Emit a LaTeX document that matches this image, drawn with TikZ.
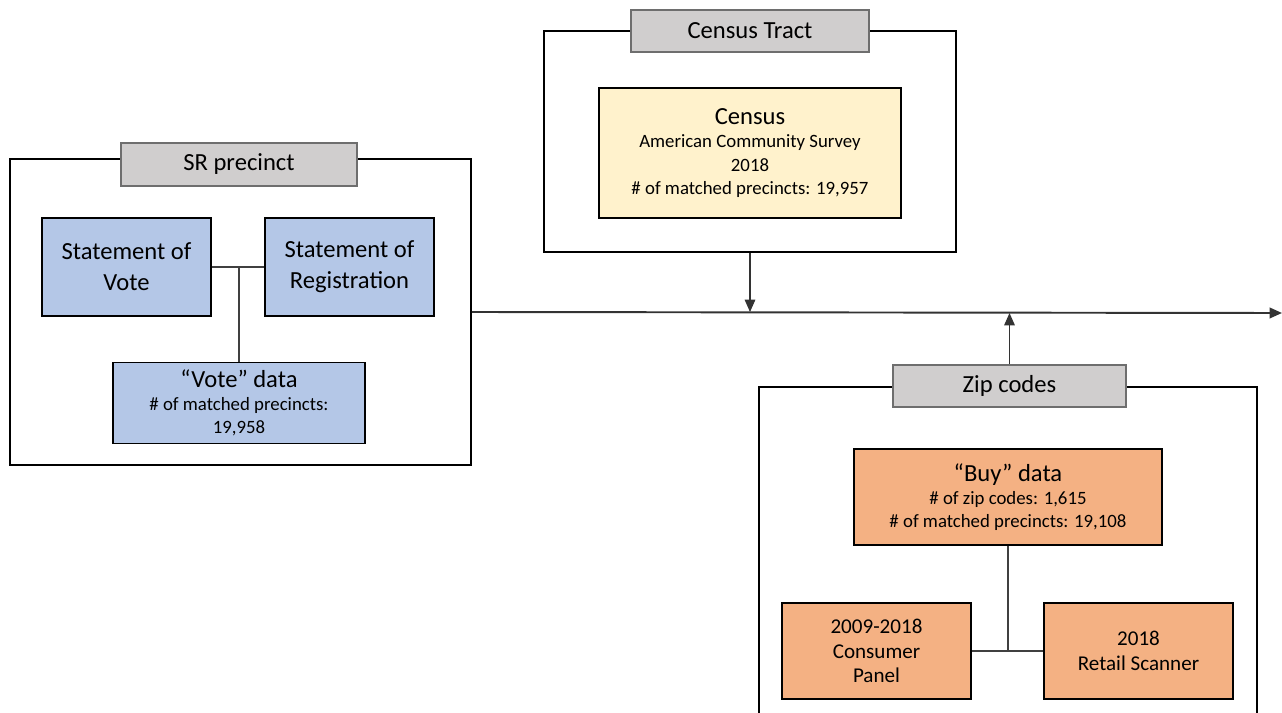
\documentclass[tikz,border=0pt]{standalone}
\usepackage{fontspec}
\setmainfont{Carlito}
\usetikzlibrary{arrows.meta}
\newdimen\unitpx
\unitpx=0.02cm
\definecolor{labelgray}{HTML}{D0CECE}
\definecolor{labeledge}{HTML}{6E6E6E}
\definecolor{voteblue}{HTML}{B4C7E7}
\definecolor{censusyellow}{HTML}{FFF2CC}
\definecolor{buyorange}{HTML}{F4B183}
\tikzset{
  frame/.style={draw=black,line width=1.1pt,inner sep=0pt},
  levellabel/.style={draw=labeledge,fill=labelgray,line width=1.1pt,inner sep=0pt,
    font=\fontsize{14}{17}\selectfont},
  datasource/.style={draw=black,line width=1.1pt,inner sep=0pt,align=center},
  link/.style={draw=black!75,line width=0.6pt},
  feed/.style={draw=black!80,line width=0.7pt,->,>={Triangle[length=7pt,width=6pt]}}
}
\begin{document}
\begin{tikzpicture}[x=\unitpx,y=-\unitpx]
      \def\smallfont{\fontsize{10.7}{13.2}\selectfont}
      \def\bigfont{\fontsize{14}{17}\selectfont}
      \clip (0,0) rectangle (1282,713);
      \node[frame,minimum width=461\unitpx,minimum height=306\unitpx] (srframe) at (240.5,312) {};
      \node[frame,minimum width=412\unitpx,minimum height=221\unitpx] (tractframe) at (750,141.5) {};
      \node[frame,minimum width=498\unitpx,minimum height=343\unitpx] (zipframe) at (1008,558.5) {};
      \node[levellabel,minimum width=236\unitpx,minimum height=43\unitpx] (srlabel) at (239,164.5) {SR precinct};
      \node[levellabel,minimum width=238\unitpx,minimum height=42\unitpx] (tractlabel) at (750,31) {Census Tract};
      \node[levellabel,minimum width=233\unitpx,minimum height=42\unitpx] (ziplabel) at (1009.5,386) {Zip codes};
      \node[datasource,fill=voteblue,minimum width=169\unitpx,minimum height=98\unitpx,font=\fontsize{14}{17.5}\selectfont] (sov) at (126.5,267) {Statement of\\Vote};
      \node[datasource,fill=voteblue,minimum width=169\unitpx,minimum height=98\unitpx,font=\fontsize{14}{17.5}\selectfont] (sor) at (349.5,267) {Statement of\\Registration};
      \node[datasource,fill=voteblue,minimum width=252\unitpx,minimum height=81\unitpx,font=\smallfont] (vote) at (239,403) {{\bigfont ``Vote'' data}\\\# of matched precincts:\\19,958};
      \node[datasource,fill=censusyellow,minimum width=302\unitpx,minimum height=130\unitpx,font=\smallfont] (census) at (750,153) {{\bigfont Census}\\American Community Survey\\2018\\\# of matched precincts: 19,957};
      \node[datasource,fill=buyorange,minimum width=308\unitpx,minimum height=96\unitpx,font=\smallfont] (buy) at (1008,497) {{\bigfont ``Buy'' data}\\\# of zip codes: 1,615\\\# of matched precincts: 19,108};
      \node[datasource,fill=buyorange,minimum width=189\unitpx,minimum height=96\unitpx,font=\fontsize{12}{14}\selectfont] (panel) at (876.5,651) {2009-2018\\Consumer\\Panel};
      \node[datasource,fill=buyorange,minimum width=189\unitpx,minimum height=96\unitpx,font=\fontsize{12}{14}\selectfont] (scanner) at (1138.5,651) {2018\\Retail Scanner};
      \draw[link] (sov.east) -- (sor.west);
      \draw[link] (vote.north) -- (vote.north |- sov.east);
      \draw[link] (panel.east) -- (scanner.west);
      \draw[link] (buy.south) -- (buy.south |- panel.east);
      \coordinate (merged) at (1282,313);
      \draw[feed,line width=1.1pt] (srframe.east) -- (merged);
      \draw[feed] (tractframe.south) -- (tractframe.south |- srframe.east);
      \draw[feed] (ziplabel.north) -- (ziplabel.north |- merged);
    \end{tikzpicture}
\end{document}
